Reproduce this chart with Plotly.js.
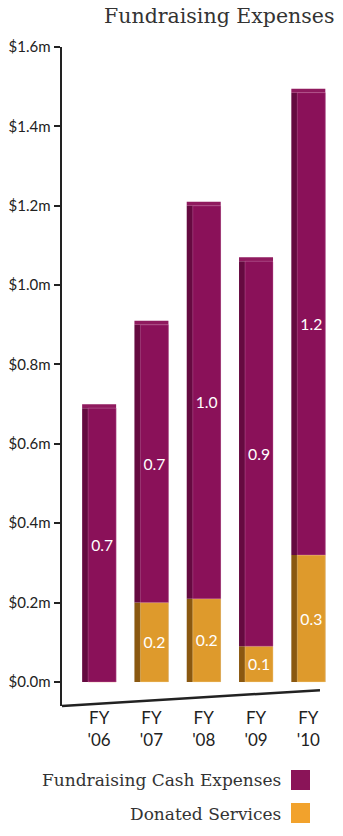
<!DOCTYPE html>
<html>
<head>
<meta charset="utf-8">
<script src="https://cdn.plot.ly/plotly-3.0.1.min.js"></script>
<style>html,body{margin:0;padding:0;background:#fff;}#chart{width:343px;height:836px;}</style>
</head>
<body>
<div id="chart"></div>
<script>
// Data
var years = ["FY<br>'06", "FY<br>'07", "FY<br>'08", "FY<br>'09", "FY<br>'10"];
var donated = [0, 0.20, 0.21, 0.09, 0.32];
var cash = [0.69, 0.70, 0.99, 0.97, 1.165];
var donatedLabels = ["", "0.2", "0.2", "0.1", "0.3"];
var cashLabels = ["0.7", "0.7", "1.0", "0.9", "1.2"];
var yTickVals = [0, 0.2, 0.4, 0.6, 0.8, 1.0, 1.2, 1.4, 1.6];
var yTickText = ["$0.0m", "$0.2m", "$0.4m", "$0.6m", "$0.8m", "$1.0m", "$1.2m", "$1.4m", "$1.6m"];
var seriesNames = ["Fundraising Cash Expenses", "Donated Services"];

var xs = years.map(function (_, i) { return i; });
var cashBase = donated.slice();
var cashTop = donated.map(function (d, i) { return d + cash[i]; });
var topDepth = years.map(function () { return 0.01; });

var FULL_W = 0.65, FRONT_W = 0.535, OFF = -0.325, FRONT_OFF = -0.21;
var cashFront = '#8a1159', cashSide = '#650a40', cashTopC = '#8f1a5e';
var donFront = '#de9a2c', donSide = '#8a5810';

var traces = [
  {type: 'bar', x: xs, y: donated, base: 0, width: FULL_W, offset: OFF,
   marker: {color: donSide}, hoverinfo: 'skip', showlegend: false},
  {type: 'bar', x: xs, y: cash, base: cashBase, width: FULL_W, offset: OFF,
   marker: {color: cashSide}, hoverinfo: 'skip', showlegend: false},
  {type: 'bar', x: xs, y: topDepth, base: cashTop, width: FULL_W, offset: OFF,
   marker: {color: cashTopC}, hoverinfo: 'skip', showlegend: false},
  {type: 'bar', name: seriesNames[1], x: xs, y: donated, base: 0, width: FRONT_W, offset: FRONT_OFF,
   marker: {color: donFront, line: {color: 'rgba(255,230,180,0.6)', width: 0.6}},
   text: donatedLabels, textposition: 'inside', insidetextanchor: 'middle', textangle: 0,
   textfont: {color: '#ffffff', size: 17, family: 'Lato'}, hoverinfo: 'skip', showlegend: false},
  {type: 'bar', name: seriesNames[0], x: xs, y: cash, base: cashBase, width: FRONT_W, offset: FRONT_OFF,
   marker: {color: cashFront, line: {color: 'rgba(230,150,200,0.5)', width: 0.6}},
   text: cashLabels, textposition: 'inside', insidetextanchor: 'middle', textangle: 0,
   textfont: {color: '#ffffff', size: 17, family: 'Lato'}, hoverinfo: 'skip', showlegend: false}
];

var layout = {
  width: 343, height: 836,
  margin: {l: 62, r: 8, t: 47, b: 130},
  paper_bgcolor: '#ffffff', plot_bgcolor: '#ffffff',
  barmode: 'overlay',
  showlegend: false,
  title: {text: 'Fundraising Expenses', x: 0.975, xanchor: 'right', y: 0.99, yanchor: 'top',
          font: {family: 'DejaVu Serif', size: 20.5, color: '#333333'}},
  xaxis: {range: [-0.71, 4.51], tickvals: xs, ticktext: years, showgrid: false, zeroline: false,
          showline: false, ticks: '', tickfont: {family: 'Lato', size: 17, color: '#222'}, fixedrange: true},
  yaxis: {range: [-0.0605, 1.6], tickvals: yTickVals, ticktext: yTickText, showgrid: false, zeroline: false,
          showline: true, linecolor: '#222', linewidth: 2.5, ticks: 'outside', ticklen: 6, tickwidth: 2,
          tickcolor: '#222', tickfont: {family: 'Lato', size: 15, color: '#222'}, fixedrange: true},
  shapes: [
    {type: 'line', xref: 'paper', yref: 'paper', x0: 0, y0: 0, x1: 0.945, y1: 0.024,
     line: {color: '#222', width: 2.5}},
    {type: 'rect', xref: 'paper', yref: 'paper', x0: (291 - 62) / 273, x1: (310 - 62) / 273,
     y0: (706 - 790) / 659, y1: (706 - 770) / 659, fillcolor: '#8a1458', line: {width: 0}},
    {type: 'rect', xref: 'paper', yref: 'paper', x0: (291 - 62) / 273, x1: (310 - 62) / 273,
     y0: (706 - 823) / 659, y1: (706 - 803) / 659, fillcolor: '#f2a22c', line: {width: 0}}
  ],
  annotations: [
    {xref: 'paper', yref: 'paper', x: (283 - 62) / 273, y: (706 - 780) / 659, xanchor: 'right', yanchor: 'middle',
     showarrow: false, text: seriesNames[0], font: {family: 'DejaVu Serif', size: 17, color: '#333'}},
    {xref: 'paper', yref: 'paper', x: (283 - 62) / 273, y: (706 - 814) / 659, xanchor: 'right', yanchor: 'middle',
     showarrow: false, text: seriesNames[1], font: {family: 'DejaVu Serif', size: 17, color: '#333'}}
  ]
};

Plotly.newPlot('chart', traces, layout, {staticPlot: true, displayModeBar: false});
</script>
</body>
</html>
